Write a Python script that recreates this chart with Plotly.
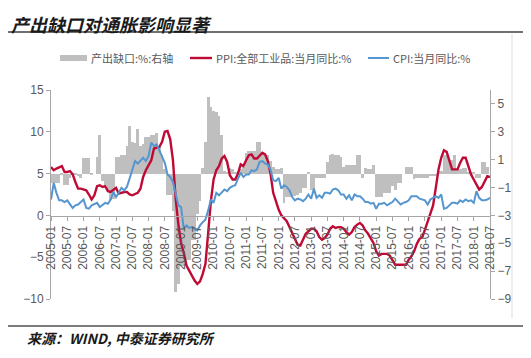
import plotly.graph_objects as go
import pandas as pd

# ---------------- data ----------------
months = [d.strftime("%Y-%m") for d in pd.date_range("2005-01-01", "2018-07-01", freq="MS")]
tick_labels = months[::6]

output_gap = [
    # 2005
    -0.7, -0.7, -0.7, -0.7, -0.1, -0.8, -0.8, -0.3, -0.1, -0.1, -0.2, -0.3,
    # 2006
    1.1, 1.1, 1.1, -0.1, 0.0, 1.2, 2.8, -0.5, -0.8, -1.2, -1.9, -1.8,
    # 2007
    1.2, 1.2, 1.3, 1.3, 2.0, 3.4, 2.3, 2.2, 3.2, 2.0, 2.1, 2.6,
    # 2008
    2.6, 2.8, 2.8, 2.9, 2.0, 1.3, 0.3, -1.5, -1.5, -2.7, -8.5, -7.9,
    # 2009
    -6.6, -6.6, -6.2, -6.2, -4.8, -4.8, -2.9, -2.0, 0.4, 2.3, 5.5, 4.8,
    # 2010
    4.5, 4.4, 4.1, 2.8, 0.2, 0.1, 0.4, 0.3, 0.1, 0.2, 0.3, 0.5,
    # 2011
    1.5, 1.6, 1.6, 1.6, 2.3, 2.3, 1.4, 1.4, 1.3, 0.9, 0.5, 0.3,
    # 2012
    0.3, 0.4, -2.1, -1.7, -1.7, -1.6, -1.6, -1.5, -1.4, -1.0, -1.0, 0.1,
    # 2013
    -1.2, -1.2, -0.3, -0.3, -0.3, -0.3, 0.8, 1.3, 1.4, 1.3, 1.3, 1.2,
    # 2014
    0.5, 0.6, 0.6, 0.6, 0.6, 1.3, 1.3, -0.3, 0.4, 0.3, 0.3, 0.6,
    # 2015
    -1.7, -1.7, -1.7, -1.4, -1.4, -1.4, -0.9, -1.2, -0.7, -0.7, 0.0, 0.5,
    # 2016
    0.5, 0.5, -0.4, -0.3, -0.3, -0.3, -0.3, -0.3, -0.2, -0.2, -0.2, 0.2,
    # 2017
    0.2, 1.3, 1.3, 1.0, 1.0, 1.3, 0.3, 0.3, 0.4, 0.4, 0.1, 0.1,
    # 2018
    0.1, -0.3, -0.3, 0.8, 0.8, 0.5, 0.0,
]

ppi = [
    5.8, 5.4, 5.6, 5.8, 5.9, 5.2, 5.2, 5.3, 4.9, 4.0, 3.2, 3.2,
    3.1, 3.0, 2.5, 1.9, 2.4, 3.5, 3.6, 3.4, 3.5, 2.9, 2.8, 3.1,
    3.3, 2.6, 2.7, 2.8, 2.8, 2.5, 2.4, 2.6, 2.7, 3.2, 4.6, 5.4,
    6.1, 6.6, 8.0, 8.1, 8.2, 8.8, 10.0, 10.1, 9.1, 6.6, 2.0, -1.1,
    -3.3, -4.5, -6.0, -6.6, -7.2, -7.8, -8.2, -7.9, -7.0, -5.8, -2.1, 1.7,
    4.3, 5.4, 5.9, 6.8, 7.1, 6.4, 4.8, 4.3, 4.3, 5.0, 6.1, 5.9,
    6.6, 7.2, 7.3, 6.8, 6.8, 7.1, 7.5, 7.3, 6.5, 5.0, 2.7, 1.7,
    0.7, 0.0, -0.3, -0.7, -1.4, -2.1, -2.9, -3.5, -3.6, -2.8, -2.2, -1.9,
    -1.6, -1.6, -1.9, -2.6, -2.9, -2.7, -2.3, -1.6, -1.3, -1.5, -1.4, -1.4,
    -1.6, -2.0, -2.3, -2.0, -1.4, -1.1, -0.9, -1.2, -1.8, -2.2, -2.7, -3.3,
    -4.3, -4.8, -4.6, -4.6, -4.6, -4.8, -5.4, -5.9, -5.9, -5.9, -5.9, -5.9,
    -5.3, -4.9, -4.3, -3.4, -2.8, -2.6, -1.7, -0.8, 0.1, 1.2, 3.3, 5.5,
    6.9, 7.8, 7.6, 6.4, 5.5, 5.5, 5.5, 6.3, 6.9, 6.9, 5.8, 4.9,
    4.3, 3.7, 3.1, 3.4, 4.1, 4.7, 4.6,
]

cpi = [
    1.9, 3.9, 2.7, 1.8, 1.8, 1.6, 1.8, 1.3, 0.9, 1.2, 1.3, 1.6,
    1.9, 0.9, 0.8, 1.2, 1.4, 1.5, 1.0, 1.3, 1.5, 1.4, 1.9, 2.8,
    2.2, 2.7, 3.3, 3.0, 3.4, 4.4, 5.6, 6.5, 6.2, 6.5, 6.9, 6.5,
    7.1, 8.7, 8.3, 8.5, 7.7, 7.1, 6.3, 4.9, 4.6, 4.0, 2.4, 1.2,
    1.0, -1.6, -1.2, -1.5, -1.4, -1.7, -1.8, -1.2, -0.8, -0.5, 0.6, 1.9,
    1.5, 2.7, 2.4, 2.8, 3.1, 2.9, 3.3, 3.5, 3.6, 4.4, 5.1, 4.6,
    4.9, 4.9, 5.4, 5.3, 5.5, 6.4, 6.5, 6.2, 6.1, 5.5, 4.2, 4.1,
    4.5, 3.2, 3.6, 3.4, 3.0, 2.2, 1.8, 2.0, 1.9, 1.7, 2.0, 2.5,
    2.0, 3.2, 2.1, 2.4, 2.1, 2.7, 2.7, 2.6, 3.1, 3.2, 3.0, 2.5,
    2.5, 2.0, 2.4, 1.8, 2.5, 2.3, 2.3, 2.0, 1.6, 1.6, 1.4, 1.5,
    0.8, 1.4, 1.4, 1.5, 1.2, 1.4, 1.6, 2.0, 1.6, 1.3, 1.5, 1.6,
    1.8, 2.3, 2.3, 2.3, 2.0, 1.9, 1.8, 1.3, 1.9, 2.1, 2.3, 2.1,
    2.5, 0.8, 0.9, 1.2, 1.5, 1.5, 1.4, 1.8, 1.6, 1.9, 1.7, 1.8,
    1.5, 2.9, 2.1, 1.8, 1.8, 1.9, 2.1,
]

left_ticks = [-10, -5, 0, 5, 10, 15]
right_ticks = [-9, -7, -5, -3, -1, 1, 3, 5]

name_gap = "产出缺口:%:右轴"
name_ppi = "PPI:全部工业品:当月同比:%"
name_cpi = "CPI:当月同比:%"
title_text = "产出缺口对通胀影响显著"
source_text = "来源：WIND, 中泰证券研究所"

# ---------------- layout geometry ----------------
# the page body has an 8px default margin, so the figure is drawn 8px
# right/down of the window origin; all positions below are window pixels.
OFF = 8
W, H = 531 - OFF, 358 - OFF
L, R, T, B = 51 - OFF, 490 - OFF, 90 - OFF, 299 - OFF


def px(x):
    return (x - OFF - L) / (R - L)


def py(y):
    return (B - (y - OFF)) / (B - T)


GRAY_BAR = "#BFBFBF"
RED = "#BE0A35"
BLUE = "#5596CF"
AX = "#A6A6A6"
TXT = "#595959"
CJK = "Noto Sans CJK SC"
LAT = "Liberation Sans"

fig = go.Figure()
fig.add_trace(go.Bar(x=months, y=output_gap, name=name_gap, marker=dict(color=GRAY_BAR, line=dict(width=0)),
                     yaxis="y", showlegend=False))
fig.add_trace(go.Scatter(x=months, y=ppi, name=name_ppi, mode="lines", line=dict(color=RED, width=2.4),
                         yaxis="y2", showlegend=False))
fig.add_trace(go.Scatter(x=months, y=cpi, name=name_cpi, mode="lines", line=dict(color=BLUE, width=2),
                         yaxis="y2", showlegend=False))

fig.update_layout(
    width=W, height=H,
    margin=dict(l=L, r=W - R, t=T, b=H - B, pad=0, autoexpand=False),
    paper_bgcolor="white", plot_bgcolor="white",
    bargap=0,
    showlegend=False,
    xaxis=dict(
        type="category", range=[0, len(months) - 1],
        tickmode="array", tickvals=tick_labels, ticktext=tick_labels,
        tickangle=-90, tickfont=dict(family=LAT, size=12, color=TXT),
        ticks="outside", ticklen=4, tickcolor=AX,
        showline=True, linecolor=AX, linewidth=1,
        showgrid=False, zeroline=False, automargin=False,
        anchor="free", position=py(216),
    ),
    yaxis=dict(
        side="right", range=[-9, 6], tickvals=right_ticks,
        tickfont=dict(family=LAT, size=12, color=TXT),
        ticks="outside", ticklen=4, tickcolor=AX,
        showline=True, linecolor=AX, linewidth=1,
        showgrid=False, zeroline=False, anchor="x", automargin=False,
    ),
    yaxis2=dict(
        side="left", overlaying="y", range=[-10, 15], tickvals=left_ticks,
        tickfont=dict(family=LAT, size=12, color=TXT),
        ticks="outside", ticklen=4, tickcolor=AX,
        showline=True, linecolor=AX, linewidth=1,
        showgrid=False, zeroline=False, anchor="x", automargin=False,
    ),
)

shapes = [
    # title underline
    dict(type="line", xref="paper", yref="paper", x0=px(8), x1=px(531), y0=py(32), y1=py(32),
         line=dict(color="#404040", width=1.5)),
    # right frame line
    dict(type="line", xref="paper", yref="paper", x0=px(512), x1=px(512), y0=py(34), y1=py(318),
         line=dict(color="#DDDDDD", width=1)),
    # bottom line
    dict(type="line", xref="paper", yref="paper", x0=px(8), x1=px(531), y0=py(326), y1=py(326),
         line=dict(color="#505050", width=1.5)),
    # legend symbols
    dict(type="rect", xref="paper", yref="paper", x0=px(60), x1=px(87), y0=py(61), y1=py(55),
         fillcolor=GRAY_BAR, line=dict(width=0)),
    dict(type="line", xref="paper", yref="paper", x0=px(190), x1=px(212), y0=py(58), y1=py(58),
         line=dict(color=RED, width=2.4)),
    dict(type="line", xref="paper", yref="paper", x0=px(368), x1=px(389), y0=py(58), y1=py(58),
         line=dict(color=BLUE, width=2)),
]

annotations = [
    dict(text="<b><i>" + title_text + "</i></b>", xref="paper", yref="paper", x=px(9), y=py(8.5),
         xanchor="left", yanchor="top", showarrow=False, font=dict(family=CJK, size=18, color="#1a1a1a")),
    dict(text=name_gap, xref="paper", yref="paper", x=px(89), y=py(58), xanchor="left", yanchor="middle",
         showarrow=False, font=dict(family=CJK, size=11, color=TXT)),
    dict(text=name_ppi, xref="paper", yref="paper", x=px(214), y=py(58), xanchor="left", yanchor="middle",
         showarrow=False, font=dict(family=CJK, size=11, color=TXT)),
    dict(text=name_cpi, xref="paper", yref="paper", x=px(391), y=py(58), xanchor="left", yanchor="middle",
         showarrow=False, font=dict(family=CJK, size=11, color=TXT)),
    dict(text="<b><i>" + source_text + "</i></b>", xref="paper", yref="paper", x=px(25), y=py(338),
         xanchor="left", yanchor="middle", showarrow=False, font=dict(family=CJK, size=14, color="#1a1a1a")),
]

fig.update_layout(shapes=shapes, annotations=annotations)
fig.write_html("out.html")
